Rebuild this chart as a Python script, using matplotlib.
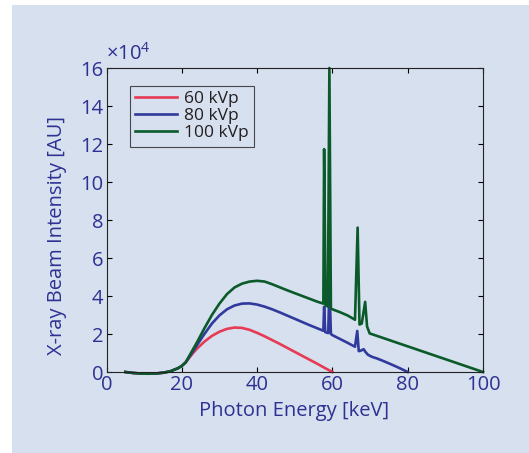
import matplotlib.pyplot as plt
import matplotlib.patches as patches

plt.rcParams['font.family'] = ['Open Sans', 'DejaVu Sans']
plt.rcParams['mathtext.fontset'] = 'custom'
plt.rcParams['mathtext.rm'] = 'Open Sans'

# ── data (intensity in units of 1e4) ──────────────────────────────────────────
energy_60 = [5, 7, 9, 11, 13, 15, 17, 19, 20, 21, 22, 23, 24, 26, 28, 30, 32, 34,
             36, 38, 40, 42, 44, 46, 48, 50, 52, 54, 56, 58, 60]
intensity_60 = [0.0, -0.05, -0.08, -0.09, -0.08, -0.04, 0.04, 0.2, 0.32, 0.5, 0.75,
                1.0, 1.22, 1.6, 1.9, 2.12, 2.27, 2.34, 2.32, 2.22, 2.06, 1.88, 1.68,
                1.48, 1.27, 1.06, 0.85, 0.64, 0.43, 0.21, 0.0]

energy_80 = [5, 7, 9, 11, 13, 15, 17, 19, 20, 21, 22, 23, 24, 26, 28, 30, 32, 34,
             36, 38, 40, 42, 44, 46, 48, 50, 52, 54, 56, 57.6, 57.8, 58.1, 58.9,
             59.2, 59.6, 60.0, 62, 64, 66.0, 66.6, 67.0, 67.5, 68.3, 68.8, 69.5,
             70.5, 72, 74, 76, 78, 80]
intensity_80 = [0.0, -0.05, -0.08, -0.09, -0.08, -0.04, 0.04, 0.2, 0.32, 0.5, 0.8,
                1.1, 1.4, 2.0, 2.55, 2.98, 3.3, 3.5, 3.6, 3.61, 3.55, 3.44, 3.3,
                3.14, 2.97, 2.8, 2.63, 2.46, 2.3, 2.17, 3.43, 2.1, 2.05, 4.66, 2.0,
                1.94, 1.74, 1.54, 1.33, 2.16, 1.1, 1.12, 1.2, 1.05, 0.9, 0.8, 0.7,
                0.54, 0.37, 0.19, 0.0]

energy_100 = [5, 7, 9, 11, 13, 15, 17, 19, 20, 21, 22, 23, 24, 26, 28, 30, 32, 34,
              36, 38, 40, 42, 44, 46, 48, 50, 52, 54, 56, 57.6, 57.8, 58.2, 58.8,
              59.2, 59.6, 60.0, 62, 64, 66.0, 66.7, 67.2, 67.8, 68.7, 69.2, 69.9,
              72, 76, 80, 84, 88, 92, 96, 100]
intensity_100 = [0.0, -0.05, -0.08, -0.09, -0.08, -0.04, 0.04, 0.2, 0.32, 0.5, 0.85,
                 1.2, 1.55, 2.3, 3.0, 3.6, 4.1, 4.45, 4.65, 4.76, 4.8, 4.76, 4.62,
                 4.46, 4.3, 4.15, 4.0, 3.85, 3.7, 3.6, 11.73, 3.5, 3.45, 16.0, 3.35,
                 3.3, 3.15, 2.98, 2.75, 7.6, 2.5, 2.55, 3.69, 2.4, 2.03, 1.89, 1.62,
                 1.35, 1.08, 0.81, 0.54, 0.27, 0.0]

series_labels = ['60 kVp', '80 kVp', '100 kVp']
series_colors = ['#e63a55', '#2f3a9c', '#0b5a2a']

x_ticks = [0, 20, 40, 60, 80, 100]
y_ticks = [0, 2, 4, 6, 8, 10, 12, 14, 16]

# ── figure ───────────────────────────────────────────────────────────────────
BLUE_TXT = '#2e3192'
PANEL = '#d6e0ee'
FS = 14.5

fig = plt.figure(figsize=(5.29, 4.53), dpi=100, facecolor='white')
panel = patches.Rectangle((12 / 529, 0), 1 - 12 / 529, 1 - 5 / 453,
                          transform=fig.transFigure, facecolor=PANEL,
                          edgecolor='none', zorder=-10)
fig.add_artist(panel)

ax = fig.add_axes([106.5 / 529, 1 - 372 / 453, 376.5 / 529, 304 / 453])
ax.set_facecolor('none')
ax.set_zorder(1)

for e, v, lab, col in zip([energy_60, energy_80, energy_100],
                          [intensity_60, intensity_80, intensity_100],
                          series_labels, series_colors):
    ax.plot(e, v, color=col, lw=1.9, label=lab, clip_on=False)

ax.set_xlim(0, 100)
ax.set_ylim(0, 16)
ax.set_xticks(x_ticks)
ax.set_yticks(y_ticks)
ax.tick_params(direction='in', length=3.5, width=0.8, color='black',
               top=True, right=True, labelsize=FS, labelcolor=BLUE_TXT, pad=2.5)
for s in ax.spines.values():
    s.set_linewidth(0.8)
    s.set_color('#222222')

ax.set_xlabel('Photon Energy [keV]', fontsize=FS, color=BLUE_TXT)
ax.xaxis.set_label_coords(0.498, -0.095)
ax.set_ylabel('X-ray Beam Intensity [AU]', fontsize=FS, color=BLUE_TXT)
ax.yaxis.set_label_coords(-0.105, 0.45)

# exponent marker
ax.text(0.0, 1.012, r'×10$^{4}$', transform=ax.transAxes, fontsize=FS,
        color=BLUE_TXT, ha='left', va='bottom')

leg = ax.legend(loc='upper left', bbox_to_anchor=(23.5 / 376.5, 1 - 18 / 304),
                fontsize=12.5, frameon=True, fancybox=False,
                handlelength=2.4, handletextpad=0.4, labelspacing=0.05,
                borderpad=0.3, borderaxespad=0)
frame = leg.get_frame()
frame.set_facecolor('none')
frame.set_edgecolor('#222222')
frame.set_linewidth(0.8)
for t in leg.get_texts():
    t.set_color('#231f20')

plt.savefig('out.png', dpi=100)
